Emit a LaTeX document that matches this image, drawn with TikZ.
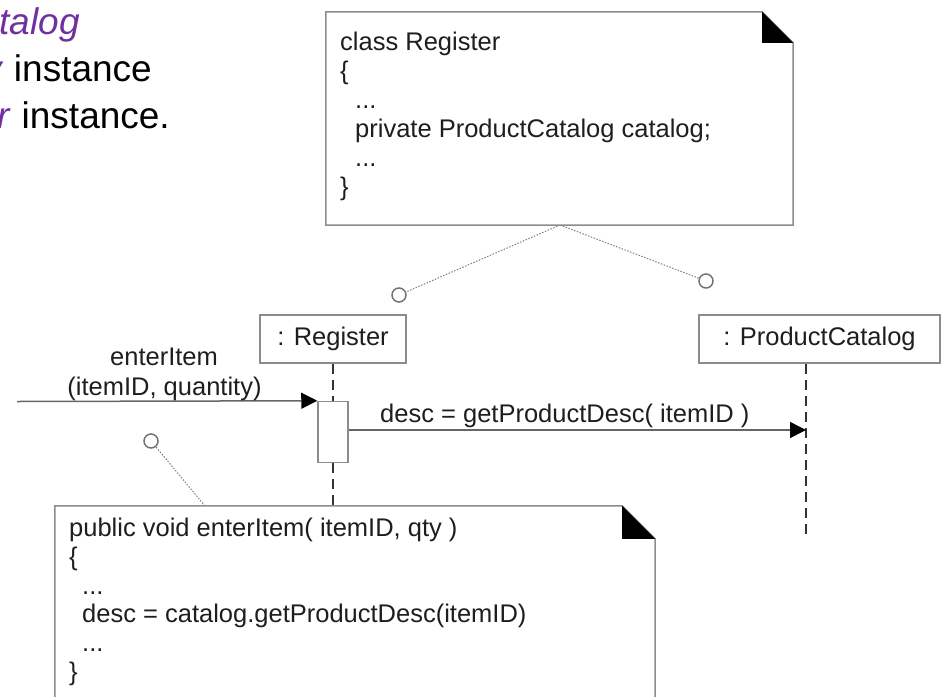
\documentclass[tikz,border=0pt]{standalone}
\usepackage{fontspec}
\setmainfont{Liberation Sans}
\usetikzlibrary{arrows.meta}
\definecolor{linegray}{HTML}{8C8C8C}
\definecolor{txt}{HTML}{1E1E1E}
\definecolor{purp}{HTML}{7030A0}
\tikzset{
  diag/.style={font=\fontsize{25.5}{30}\selectfont, text=txt},
  objbox/.style={draw=linegray, line width=1.5pt, fill=white, inner sep=0pt, diag},
  notebody/.style={draw=linegray, line width=1.5pt, fill=white},
  codeline/.style={diag, anchor=base west, inner sep=0pt},
  anchorcirc/.style={circle, draw=black!55, line width=1.5pt, minimum size=14pt, inner sep=0pt, fill=white},
  noteline/.style={draw=black!50, line width=1pt, dash pattern=on 1.5pt off 1.5pt},
  lifeline/.style={draw=black!80, line width=2pt, dash pattern=on 10pt off 6pt},
  msg/.style={draw=black!60, line width=1.5pt, -{Triangle[length=16pt,width=16pt,color=black]}},
  bigtext/.style={font=\fontsize{37}{44}\selectfont, anchor=base east, inner sep=0pt},
}
\begin{document}
\begin{tikzpicture}[x=1pt,y=-1pt]
\useasboundingbox (0,0) rectangle (941,696);
\clip (0,0) rectangle (941,696);

% top-left text (cut off at the left edge)
\node[bigtext, text=purp] (t1) at (80,34) {\textit{talog}};
\node[bigtext] (t2) at (152,81) {\textcolor{purp}{\textit{y}} instance};
\node[bigtext] (t3) at (170,128) {\textcolor{purp}{\textit{r}} instance.};

% note anchors
\coordinate (apex) at (560,225);
\node[anchorcirc] (c1) at (399,295) {};
\node[anchorcirc] (c2) at (706,281) {};
\node[anchorcirc] (c3) at (151,441) {};
\coordinate (n2link) at (205,506);
\draw[noteline] (apex) -- (c1);
\draw[noteline] (apex) -- (c2);
\draw[noteline] (n2link) -- (c3);

% top note
\node[minimum width=467pt, minimum height=213pt, inner sep=0pt] (note1) at (559.5,118.5) {};
\path[notebody] (note1.north west) -- ([xshift=-31pt]note1.north east) -- ([yshift=-31pt]note1.north east) -- (note1.south east) -- (note1.south west) -- cycle;
\fill[black] ([xshift=-31pt]note1.north east) -- ([xshift=-31pt,yshift=-31pt]note1.north east) -- ([yshift=-31pt]note1.north east) -- cycle;
\node[codeline] (a1) at (340,50) {class Register};
\node[codeline] (a2) at (340,79) {\{};
\node[codeline] (a3) at (355,108) {...};
\node[codeline] (a4) at (355,137) {private ProductCatalog catalog;};
\node[codeline] (a5) at (355,166) {...};
\node[codeline] (a6) at (340,195) {\}};

% objects
\node[objbox, minimum width=146pt, minimum height=48pt] (reg) at (333,339) {: Register};
\node[objbox, minimum width=241pt, minimum height=48pt] (pc) at (819.5,339) {: ProductCatalog};

% bottom note
\node[minimum width=600pt, minimum height=214pt, inner sep=0pt] (note2) at (355,613) {};

% lifelines
\node[draw=linegray, line width=1.5pt, fill=white, minimum width=30pt, minimum height=61pt, inner sep=0pt] (act) at (333,432) {};
\draw[lifeline] (reg.south) -- (act.north);
\draw[lifeline] (act.south) -- (act.south |- note2.north);
\coordinate (pcend) at (806,538);
\draw[lifeline] (pc.south -| pcend) -- (pcend);

% messages
\coordinate (src) at (17,401.5);
\coordinate (pcl) at (806,430);
\draw[msg] (src) -- (act.north west);
\draw[msg] (act.east |- pcl) -- (pcl);
\node[diag, anchor=base, inner sep=0pt] (l1) at (164,365) {enterItem};
\node[diag, anchor=base, inner sep=0pt] (l2) at (164.5,395) {(itemID, quantity)};
\node[diag, anchor=base west, inner sep=0pt] (l3) at (380,422) {desc = getProductDesc( itemID )};

% bottom note body
\path[notebody] (note2.north west) -- ([xshift=-33pt]note2.north east) -- ([yshift=-33pt]note2.north east) -- (note2.south east) -- (note2.south west) -- cycle;
\fill[black] ([xshift=-33pt]note2.north east) -- ([xshift=-33pt,yshift=-33pt]note2.north east) -- ([yshift=-33pt]note2.north east) -- cycle;
\node[codeline] (b1) at (69,536) {public void enterItem( itemID, qty )};
\node[codeline] (b2) at (69,565) {\{};
\node[codeline] (b3) at (82,594) {...};
\node[codeline] (b4) at (82,622) {desc = catalog.getProductDesc(itemID)};
\node[codeline] (b5) at (82,651) {...};
\node[codeline] (b6) at (69,680) {\}};
\end{tikzpicture}
\end{document}
